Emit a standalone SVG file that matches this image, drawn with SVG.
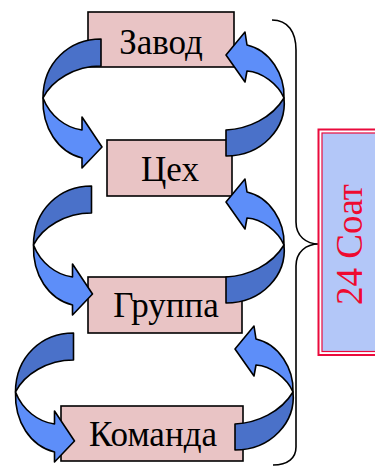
<svg xmlns="http://www.w3.org/2000/svg" width="375" height="466" viewBox="0 0 375 466">
  <style>
    .box { fill: #e9c4c5; stroke: #000; stroke-width: 1.6; }
    .lbl { font-family: "Liberation Serif", "Times New Roman", serif; font-size: 35px; fill: #000; text-anchor: middle; }
    .back { fill: #4a71c9; stroke: #000; stroke-width: 1.6; stroke-linejoin: round; }
    .front { fill: #5d8ef9; stroke: #000; stroke-width: 1.6; stroke-linejoin: round; }
    .brace { fill: none; stroke: #000; stroke-width: 1.6; }
  </style>
  <defs>
    <!-- curved arrow sweeping out to the left and back in, pointing right -->
    <g id="arrowL">
      <path class="back" d="M101,39 C70,39 43,62 43,98 C52,80 75,66 101,66 Z"/>
      <path class="front" d="M43,98 C50,116 66,128 82,130 L82,117 L102,147 L82,168 L82,158 C58,152 42,128 43,98 Z"/>
    </g>
    <!-- curved arrow sweeping out to the right and back up, pointing left -->
    <g id="arrowR">
      <path class="back" d="M226,130 C248,129 272,118 284,98 C287,128 262,156 226,156 Z"/>
      <path class="front" d="M284,98 C285,75 270,50 247,45 L245,32 L226,55 L245,82 L247,71 C262,72 278,84 284,98 Z"/>
    </g>
  </defs>

  <g id="node-zavod">
    <rect class="box" x="88" y="12" width="146" height="55"/>
    <text class="lbl" x="161" y="54">Завод</text>
  </g>
  <g id="node-tsekh">
    <rect class="box" x="107" y="140" width="125" height="56"/>
    <text class="lbl" x="170" y="181">Цех</text>
  </g>
  <g id="node-gruppa">
    <rect class="box" x="88" y="277" width="154" height="56"/>
    <text class="lbl" x="166" y="317">Группа</text>
  </g>
  <g id="node-komanda">
    <rect class="box" x="61" y="406" width="182" height="55"/>
    <text class="lbl" x="153" y="446">Команда</text>
  </g>

  <g id="connectors">
    <use href="#arrowL"/>
    <use href="#arrowR"/>
    <use href="#arrowL" transform="translate(-9.5,147)"/>
    <use href="#arrowR" transform="translate(0,147)"/>
    <use href="#arrowL" transform="translate(-27.5,294)"/>
    <use href="#arrowR" transform="translate(9,294)"/>
    <path class="brace" d="M272,20 C288,20 296,32 296,50 L296,222 C296,236 306,244 319,244 C306,244 296,252 296,266 L296,447 C296,458 288,465 273,465"/>
  </g>

  <g id="node-24soat">
    <rect x="318.5" y="129.5" width="70" height="225.5" fill="#fff" stroke="#ea0a3c" stroke-width="2"/>
    <rect x="322" y="133" width="70" height="218.5" fill="#b3c7f8" stroke="#ea0a3c" stroke-width="1.2"/>
    <text transform="translate(362,244.5) rotate(-90)" font-family="Liberation Serif, Times New Roman, serif" font-size="37" fill="#ee0a30" text-anchor="middle">24 Соат</text>
  </g>
</svg>
